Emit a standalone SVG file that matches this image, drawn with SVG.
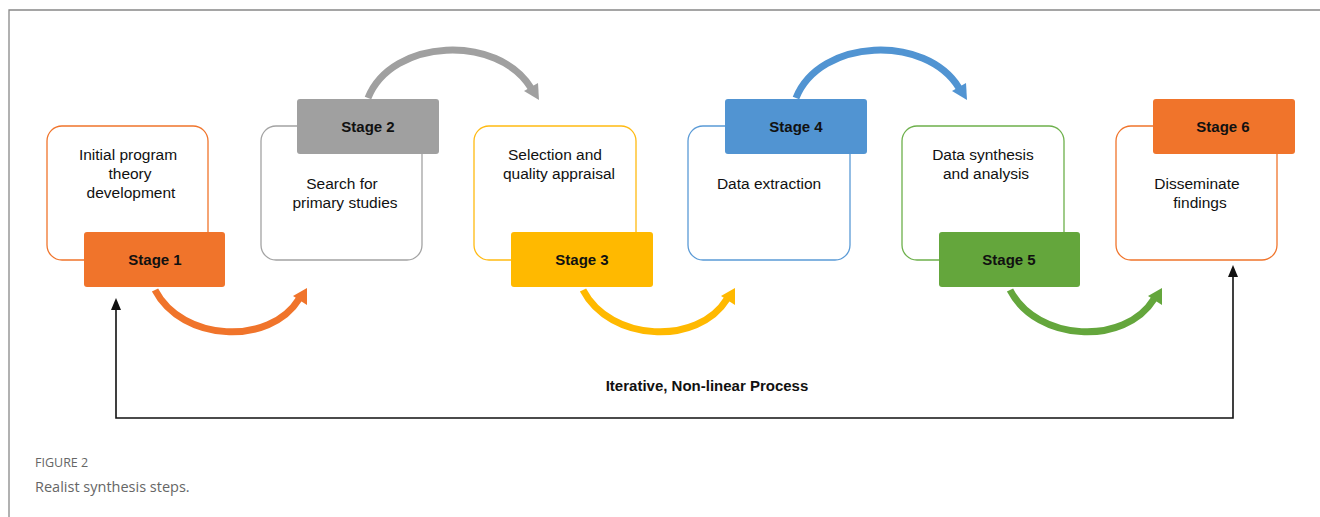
<svg xmlns="http://www.w3.org/2000/svg" width="1320" height="517" viewBox="0 0 1320 517">
<defs>
<style>
.t{font-family:"Liberation Sans",Arial,sans-serif;font-size:15.5px;fill:#111;text-anchor:middle}
.s{font-family:"Liberation Sans",Arial,sans-serif;font-size:15px;font-weight:bold;fill:#111;text-anchor:middle}
.ob{fill:#fff;stroke-width:1.3}
.arc{fill:none;stroke-width:7}
.fb{fill:none;stroke:#111;stroke-width:1.6}
</style>
</defs>
<rect width="1320" height="517" fill="#fff"/>
<path d="M9,517 V10 H1320" fill="none" stroke="#888" stroke-width="1.3"/>

<g id="node1">
<rect class="ob" x="47" y="126" width="161" height="134" rx="15" stroke="#F0742B"/>
<text class="t" x="128" y="160">Initial program</text>
<text class="t" x="130" y="179">theory</text>
<text class="t" x="131" y="198">development</text>
<rect x="84" y="232" width="141" height="55" rx="3" fill="#F0742B"/>
<text class="s" x="155" y="265">Stage 1</text>
</g>
<g id="node2">
<rect class="ob" x="261" y="126" width="161" height="134" rx="15" stroke="#A3A3A3"/>
<text class="t" x="342" y="189">Search for</text>
<text class="t" x="345" y="208">primary studies</text>
<rect x="297" y="99" width="142" height="55" rx="3" fill="#A0A0A0"/>
<text class="s" x="368" y="132">Stage 2</text>
</g>
<g id="node3">
<rect class="ob" x="474" y="126" width="162" height="134" rx="15" stroke="#FFBA12"/>
<text class="t" x="555" y="160">Selection and</text>
<text class="t" x="559" y="179">quality appraisal</text>
<rect x="511" y="232" width="142" height="55" rx="3" fill="#FFB900"/>
<text class="s" x="582" y="265">Stage 3</text>
</g>
<g id="node4">
<rect class="ob" x="688" y="126" width="162" height="134" rx="15" stroke="#5A9AD6"/>
<text class="t" x="769" y="189">Data extraction</text>
<rect x="725" y="99" width="142" height="55" rx="3" fill="#5194D2"/>
<text class="s" x="796" y="132">Stage 4</text>
</g>
<g id="node5">
<rect class="ob" x="902" y="126" width="162" height="134" rx="15" stroke="#6DB04B"/>
<text class="t" x="983" y="160">Data synthesis</text>
<text class="t" x="986" y="179">and analysis</text>
<rect x="939" y="232" width="141" height="55" rx="3" fill="#64A63C"/>
<text class="s" x="1009" y="265">Stage 5</text>
</g>
<g id="node6">
<rect class="ob" x="1116" y="126" width="161" height="134" rx="15" stroke="#F0742B"/>
<text class="t" x="1197" y="189">Disseminate</text>
<text class="t" x="1200" y="208">findings</text>
<rect x="1153" y="99" width="142" height="55" rx="3" fill="#F0742B"/>
<text class="s" x="1223" y="132">Stage 6</text>
</g>

<g id="connectors">
<g>
<path class="arc" stroke="#F0742B" d="M155,290 C182,342 270,346 299,299"/>
<polygon fill="#F0742B" points="307,288 307,305 293,296"/>
</g>
<g transform="translate(428,0)">
<path class="arc" stroke="#FFB900" d="M155,290 C182,342 270,346 299,299"/>
<polygon fill="#FFB900" points="307,288 307,305 293,296"/>
</g>
<g transform="translate(855,0)">
<path class="arc" stroke="#64A63C" d="M155,290 C182,342 270,346 299,299"/>
<polygon fill="#64A63C" points="307,288 307,305 293,296"/>
</g>
<g>
<path class="arc" stroke="#A0A0A0" d="M368,98 C392,38 498,34 531,88"/>
<polygon fill="#A0A0A0" points="539,100 538,83 524,91"/>
</g>
<g transform="translate(428,0)">
<path class="arc" stroke="#5194D2" d="M368,98 C392,38 498,34 531,88"/>
<polygon fill="#5194D2" points="539,100 538,83 524,91"/>
</g>
<path class="fb" d="M1233,275 V418 H116 V308"/>
<polygon fill="#111" points="1233,265 1228,277 1238,277"/>
<polygon fill="#111" points="116,298 111,310 121,310"/>
</g>

<text class="s" x="707" y="391">Iterative, Non-linear Process</text>
<text x="35" y="467" style="font-family:'Open Sans','Liberation Sans',sans-serif;font-size:12.5px;fill:#666">FIGURE 2</text>
<text x="35" y="492" style="font-family:'Open Sans','Liberation Sans',sans-serif;font-size:14.5px;fill:#666">Realist synthesis steps.</text>
</svg>
